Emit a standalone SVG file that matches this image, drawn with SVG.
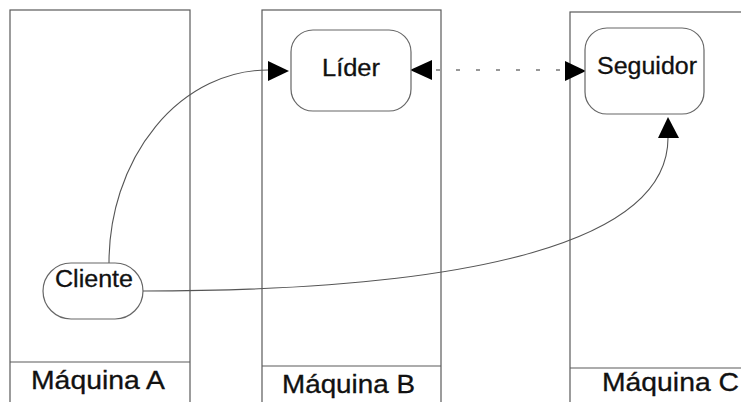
<svg xmlns="http://www.w3.org/2000/svg" width="741" height="402" viewBox="0 0 741 402">
  <style>
    .machine { fill: none; stroke: #5a5a5a; stroke-width: 1.2; }
    .node { fill: #ffffff; stroke: #666666; stroke-width: 1.2; }
    .label { font-family: "Liberation Sans", Arial, sans-serif; fill: #111111; stroke: #111111; stroke-width: 0.3; }
    .mlabel { font-size: 25px; }
    .nlabel { font-size: 23.5px; }
    .link { fill: none; stroke: #555555; stroke-width: 1.1; }
    .dashed { fill: none; stroke: #777777; stroke-width: 1.4; stroke-dasharray: 4 16; }
    .head { fill: #000000; }
  </style>
  <rect width="741" height="402" fill="#ffffff"/>

  <!-- machines -->
  <g id="maquina-a">
    <rect class="machine" x="10" y="10" width="180" height="400"/>
    <line class="machine" x1="10" y1="362" x2="190" y2="362"/>
    <text class="label mlabel" x="31" y="389" textLength="134" lengthAdjust="spacingAndGlyphs">Máquina A</text>
  </g>
  <g id="maquina-b">
    <rect class="machine" x="262" y="10" width="179" height="400"/>
    <line class="machine" x1="262" y1="366" x2="441" y2="366"/>
    <text class="label mlabel" x="282" y="393" textLength="133" lengthAdjust="spacingAndGlyphs">Máquina B</text>
  </g>
  <g id="maquina-c">
    <rect class="machine" x="570" y="12" width="200" height="400"/>
    <line class="machine" x1="570" y1="368" x2="741" y2="368"/>
    <text class="label mlabel" x="602" y="391" textLength="137" lengthAdjust="spacingAndGlyphs">Máquina C</text>
  </g>

  <!-- connectors -->
  <g id="connectors">
    <path class="link" d="M109,263 A159,193 0 0 1 268,70"/>
    <path class="link" d="M143,291 C480,291 668,240 668,138"/>
    <line class="dashed" x1="436" y1="70" x2="565" y2="70"/>
    <polygon class="head" points="289,71 268,61 268,81"/>
    <polygon class="head" points="410,70 432,60 432,80"/>
    <polygon class="head" points="586,71 565,61 565,81"/>
    <polygon class="head" points="668,117 658,138 679,138"/>
  </g>

  <!-- processes -->
  <g id="lider">
    <rect class="node" x="291" y="30" width="120" height="81" rx="22"/>
    <text class="label nlabel" x="322" y="76" textLength="58" lengthAdjust="spacingAndGlyphs">Líder</text>
  </g>
  <g id="seguidor">
    <rect class="node" x="585" y="28" width="119" height="86" rx="22"/>
    <text class="label nlabel" x="597" y="74" textLength="100" lengthAdjust="spacingAndGlyphs">Seguidor</text>
  </g>
  <g id="cliente">
    <rect class="node" x="43" y="263" width="100" height="56" rx="28"/>
    <text class="label nlabel" x="55" y="287" textLength="78" lengthAdjust="spacingAndGlyphs">Cliente</text>
  </g>
</svg>
